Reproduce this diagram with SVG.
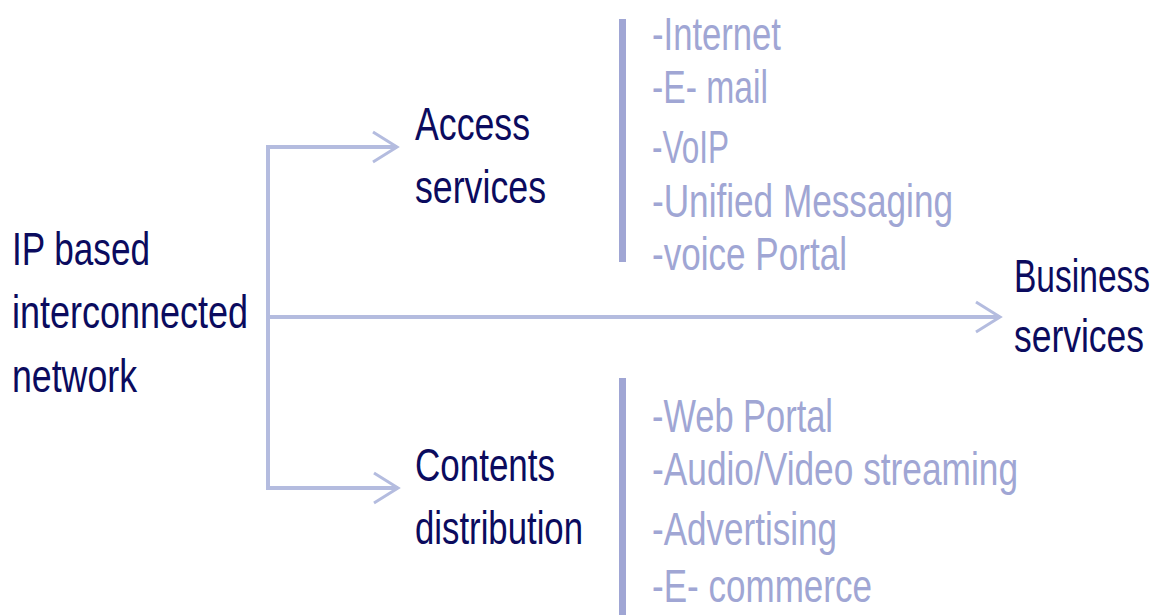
<svg xmlns="http://www.w3.org/2000/svg" width="1159" height="615" viewBox="0 0 1159 615">
  <style>
    .main { font-family: "Liberation Sans", Arial, sans-serif; font-size: 46px; fill: #0b0b5e; }
    .item { font-family: "Liberation Sans", Arial, sans-serif; font-size: 46px; fill: #a0a6d4; }
    .wire { fill: none; stroke: #b4bcdf; stroke-width: 4; }
    .bar { fill: #a0a6d4; }
  </style>
  <defs>
    <marker id="chevron" viewBox="0 0 30 34" refX="26" refY="17" markerWidth="30" markerHeight="34" markerUnits="userSpaceOnUse" orient="auto">
      <path d="M2,2 L26,17 L2,32" fill="none" stroke="#b4bcdf" stroke-width="3"/>
    </marker>
  </defs>
  <rect width="1159" height="615" fill="#ffffff"/>

  <!-- connectors -->
  <g id="connectors">
    <path class="wire" d="M268,147 V488"/>
    <path class="wire" d="M266,147 H397" marker-end="url(#chevron)"/>
    <path class="wire" d="M266,488 H398" marker-end="url(#chevron)"/>
    <path class="wire" d="M268,317 H1000" marker-end="url(#chevron)"/>
  </g>

  <g id="network">
    <text class="main" x="12" y="265" textLength="138" lengthAdjust="spacingAndGlyphs">IP based</text>
    <text class="main" x="12" y="328" textLength="236" lengthAdjust="spacingAndGlyphs">interconnected</text>
    <text class="main" x="12" y="392" textLength="125" lengthAdjust="spacingAndGlyphs">network</text>
  </g>

  <g id="access-services">
    <text class="main" x="415" y="140" textLength="115" lengthAdjust="spacingAndGlyphs">Access</text>
    <text class="main" x="415" y="203" textLength="131" lengthAdjust="spacingAndGlyphs">services</text>
  </g>

  <g id="contents-distribution">
    <text class="main" x="415" y="481" textLength="140" lengthAdjust="spacingAndGlyphs">Contents</text>
    <text class="main" x="415" y="544" textLength="168" lengthAdjust="spacingAndGlyphs">distribution</text>
  </g>

  <!-- narrowed by a horizontal scale so the label stays inside the right edge -->
  <g id="business-services">
    <text class="main" transform="translate(1014,292) scale(0.729,1)">Business</text>
    <text class="main" transform="translate(1014,352) scale(0.771,1)">services</text>
  </g>

  <g id="access-list">
    <rect class="bar" x="619" y="19" width="7" height="243"/>
    <text class="item" x="652" y="50" textLength="129" lengthAdjust="spacingAndGlyphs">-Internet</text>
    <text class="item" x="652" y="103" textLength="116" lengthAdjust="spacingAndGlyphs">-E- mail</text>
    <text class="item" x="652" y="163" textLength="77" lengthAdjust="spacingAndGlyphs">-VoIP</text>
    <text class="item" x="652" y="217" textLength="301" lengthAdjust="spacingAndGlyphs">-Unified Messaging</text>
    <text class="item" x="652" y="270" textLength="195" lengthAdjust="spacingAndGlyphs">-voice Portal</text>
  </g>

  <g id="contents-list">
    <rect class="bar" x="619" y="378" width="7" height="237"/>
    <text class="item" x="652" y="432" textLength="181" lengthAdjust="spacingAndGlyphs">-Web Portal</text>
    <text class="item" x="652" y="485" textLength="366" lengthAdjust="spacingAndGlyphs">-Audio/Video streaming</text>
    <text class="item" x="652" y="545" textLength="185" lengthAdjust="spacingAndGlyphs">-Advertising</text>
    <text class="item" x="652" y="602" textLength="220" lengthAdjust="spacingAndGlyphs">-E- commerce</text>
  </g>
</svg>
